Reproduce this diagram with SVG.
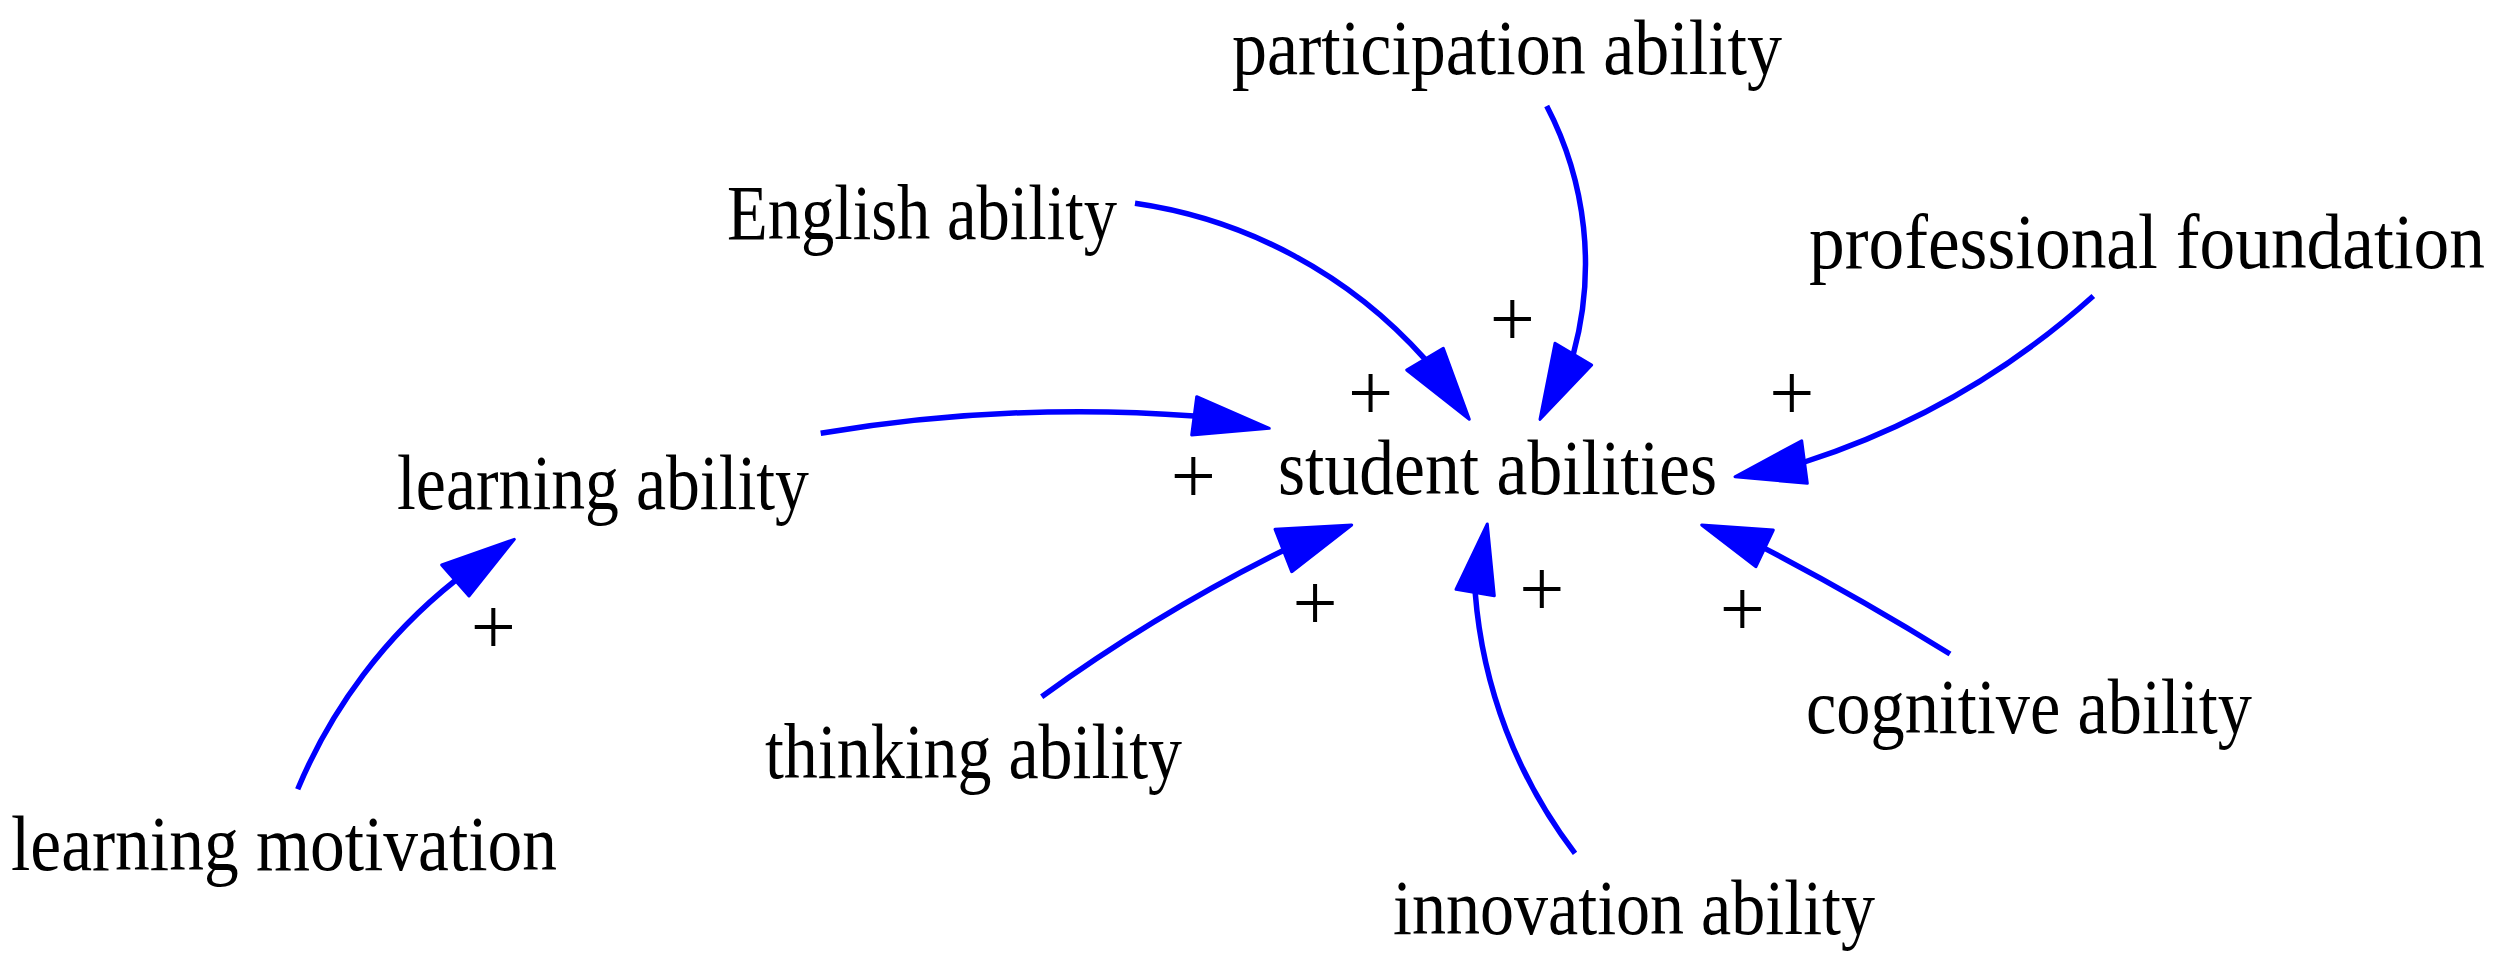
<svg xmlns="http://www.w3.org/2000/svg" width="2495" height="960" viewBox="0 0 2495 960">
<style>
.lbl{font-family:"Liberation Serif","Times New Roman",serif;font-size:78px;fill:#000}
.pl{font-family:"Liberation Serif","Times New Roman",serif;font-size:80px;fill:#000;text-anchor:middle}
.lnk{fill:none;stroke:#0000ff;stroke-width:5.5}
.head{fill:#0000ff;stroke:#0000ff;stroke-width:3;stroke-linejoin:round}
</style>
<rect width="2495" height="960" fill="#fff"/>
<g id="participation_ability"><text class="lbl" x="1232" y="74" textLength="550" lengthAdjust="spacingAndGlyphs">participation ability</text></g>
<g id="English_ability"><text class="lbl" x="727" y="239" textLength="390" lengthAdjust="spacingAndGlyphs">English ability</text></g>
<g id="professional_foundation"><text class="lbl" x="1809" y="268" textLength="676" lengthAdjust="spacingAndGlyphs">professional foundation</text></g>
<g id="learning_ability"><text class="lbl" x="397" y="509" textLength="412" lengthAdjust="spacingAndGlyphs">learning ability</text></g>
<g id="student_abilities"><text class="lbl" x="1278" y="494" textLength="439" lengthAdjust="spacingAndGlyphs">student abilities</text></g>
<g id="thinking_ability"><text class="lbl" x="765" y="778" textLength="417" lengthAdjust="spacingAndGlyphs">thinking ability</text></g>
<g id="cognitive_ability"><text class="lbl" x="1806" y="733" textLength="446" lengthAdjust="spacingAndGlyphs">cognitive ability</text></g>
<g id="learning_motivation"><text class="lbl" x="11" y="870" textLength="546" lengthAdjust="spacingAndGlyphs">learning motivation</text></g>
<g id="innovation_ability"><text class="lbl" x="1393" y="934" textLength="482" lengthAdjust="spacingAndGlyphs">innovation ability</text></g>
<g id="connectors">
<path class="lnk" d="M1135,203.3 A480,480 0 0 1 1425,359.2"/>
<polygon class="head" points="1469.3,419.3 1406.7,370 1443.3,348.3"/>
<text class="pl" x="1370.5" y="420">+</text>
<path class="lnk" d="M1546.7,106 A341,341 0 0 1 1573.3,354.2"/>
<polygon class="head" points="1540,419.3 1555,343.3 1591.7,365"/>
<text class="pl" x="1512.3" y="346">+</text>
<path class="lnk" d="M2093.3,296 A798,798 0 0 1 1804.5,462"/>
<polygon class="head" points="1735,476.7 1801.7,440.7 1807.3,483.3"/>
<text class="pl" x="1791.7" y="420">+</text>
<path class="lnk" d="M820.7,433.3 A1561,1561 0 0 1 1194.2,415.9"/>
<polygon class="head" points="1269.3,428.3 1196.7,396.7 1191.7,435"/>
<text class="pl" x="1193.3" y="503.3">+</text>
<path class="lnk" d="M297.7,789.3 A524,524 0 0 1 455.3,580.5"/>
<polygon class="head" points="514.3,539.3 441.7,565 469,596"/>
<text class="pl" x="493.3" y="654.3">+</text>
<path class="lnk" d="M1041.7,696.7 A1705,1705 0 0 1 1283.3,550.5"/>
<polygon class="head" points="1351.7,525 1275,529.3 1291.7,571.7"/>
<text class="pl" x="1315" y="630">+</text>
<path class="lnk" d="M1575,853.3 A491,491 0 0 1 1475.2,592.5"/>
<polygon class="head" points="1487.3,524 1456,589.3 1494.3,595.7"/>
<text class="pl" x="1541.7" y="615.7">+</text>
<path class="lnk" d="M1950,654 Q1858,597 1764.7,548.4"/>
<polygon class="head" points="1701.7,525 1773.3,530 1756,566.7"/>
<text class="pl" x="1742.3" y="635.7">+</text>
</g>
</svg>
